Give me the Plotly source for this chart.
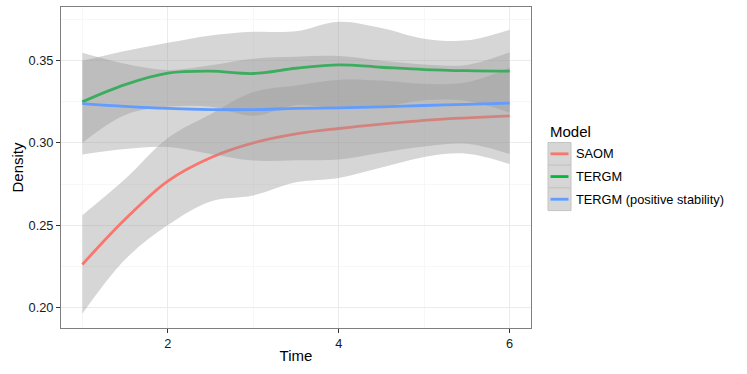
import plotly.graph_objects as go

# values (smoothed fits with confidence bands)
time = [1, 1.5, 2, 2.5, 3, 3.5, 4, 4.5, 5, 5.5, 6]
models = ["SAOM", "TERGM", "TERGM (positive stability)"]
colors = ["#F8766D", "#00BA38", "#619CFF"]

saom_fit = [0.226, 0.2535, 0.2768, 0.291, 0.300, 0.3055, 0.3088, 0.3115, 0.3138, 0.3153, 0.3165]
saom_lo = [0.196, 0.229, 0.250, 0.2644, 0.268, 0.276, 0.2787, 0.285, 0.2915, 0.2935, 0.2872]
saom_hi = [0.256, 0.278, 0.303, 0.3175, 0.331, 0.335, 0.3385, 0.338, 0.336, 0.337, 0.3458]

tergm_fit = [0.325, 0.3355, 0.3425, 0.3437, 0.3423, 0.3455, 0.3476, 0.3461, 0.3447, 0.344, 0.3437]
tergm_lo = [0.300, 0.317, 0.322, 0.322, 0.3165, 0.323, 0.3212, 0.322, 0.326, 0.3255, 0.3184]
tergm_hi = [0.350, 0.356, 0.361, 0.3655, 0.3677, 0.368, 0.3738, 0.370, 0.3635, 0.3625, 0.369]

pos_fit = [0.324, 0.3223, 0.321, 0.3203, 0.3203, 0.321, 0.3214, 0.322, 0.3228, 0.3235, 0.3242]
pos_lo = [0.293, 0.2963, 0.2975, 0.2933, 0.2893, 0.2895, 0.2899, 0.294, 0.2978, 0.2995, 0.2932]
pos_hi = [0.355, 0.3483, 0.3445, 0.3473, 0.3513, 0.3525, 0.3529, 0.350, 0.3478, 0.3475, 0.3552]

fits = [saom_fit, tergm_fit, pos_fit]
lows = [saom_lo, tergm_lo, pos_lo]
highs = [saom_hi, tergm_hi, pos_hi]

W, H = 747, 374
L, R, T, B = 61, 216, 7, 46
band = "rgba(153,153,153,0.4)"

fig = go.Figure()
for name, col, fit, lo, hi in zip(models, colors, fits, lows, highs):
    # ribbon first, then the line, like ggplot's geom_smooth
    fig.add_trace(go.Scatter(x=time, y=lo, mode="lines", line=dict(width=0, shape="spline"),
                             showlegend=False, hoverinfo="skip"))
    fig.add_trace(go.Scatter(x=time, y=hi, mode="lines", line=dict(width=0, shape="spline"),
                             fill="tonexty", fillcolor=band, showlegend=False, hoverinfo="skip"))
    fig.add_trace(go.Scatter(x=time, y=fit, mode="lines", name=name,
                             line=dict(color=col, width=2.8, shape="spline"), showlegend=False))


def px(x):
    return (x - L) / (W - L - R)


def py(y):
    return (H - B - y) / (H - T - B)


# hand-made legend in ggplot style
shapes = []
annotations = [dict(x=px(548), y=py(131), xref="paper", yref="paper", text="Model", showarrow=False,
                    xanchor="left", yanchor="middle", font=dict(size=15, color="black"))]
for i, (name, col) in enumerate(zip(models, colors)):
    top = 142.5 + i * 22.7
    shapes.append(dict(type="rect", xref="paper", yref="paper", x0=px(548), x1=px(571),
                       y0=py(top + 22.7), y1=py(top), fillcolor="#D6D6D6",
                       line=dict(color="#C4C4C4", width=1)))
    shapes.append(dict(type="line", xref="paper", yref="paper", x0=px(550.5), x1=px(568.5),
                       y0=py(top + 11.35), y1=py(top + 11.35), line=dict(color=col, width=2.8)))
    annotations.append(dict(x=px(574), y=py(top + 11.35), xref="paper", yref="paper", text=name,
                            showarrow=False, xanchor="left", yanchor="middle",
                            font=dict(size=12.8, color="black")))

fig.update_layout(
    width=W, height=H,
    margin=dict(l=L, r=R, t=T, b=B),
    paper_bgcolor="white", plot_bgcolor="white",
    font=dict(family="Liberation Sans, Arial, sans-serif", color="black"),
    shapes=shapes, annotations=annotations, showlegend=False,
)
fig.update_xaxes(
    range=[0.75, 6.25], tickvals=[2, 4, 6], ticks="outside", ticklen=4, tickcolor="#333333",
    tickfont=dict(size=12.8, color="#1a1a1a"), automargin=False,
    showgrid=True, gridcolor="#EBEBEB", gridwidth=1, zeroline=False,
    minor=dict(tickvals=[1, 3, 5], showgrid=True, gridcolor="#F7F7F7", gridwidth=1),
    showline=True, linecolor="#7F7F7F", linewidth=1, mirror=True,
    title=dict(text="Time", font=dict(size=15), standoff=0),
)
fig.update_yaxes(
    range=[0.1873, 0.3828], tickvals=[0.20, 0.25, 0.30, 0.35], tickformat=".2f",
    ticks="outside", ticklen=4, tickcolor="#333333", tickfont=dict(size=12.8, color="#1a1a1a"),
    showgrid=True, gridcolor="#EBEBEB", gridwidth=1, zeroline=False, automargin=False,
    minor=dict(tickvals=[0.225, 0.275, 0.325, 0.375], showgrid=True, gridcolor="#F7F7F7", gridwidth=1),
    showline=True, linecolor="#7F7F7F", linewidth=1, mirror=True,
    title=dict(text="Density", font=dict(size=15), standoff=1),
)

# drop the browser's default body margin so the figure sits at the page corner
fig.write_html("out.html", config={"displayModeBar": False},
               post_script="document.body.style.margin='0';")
